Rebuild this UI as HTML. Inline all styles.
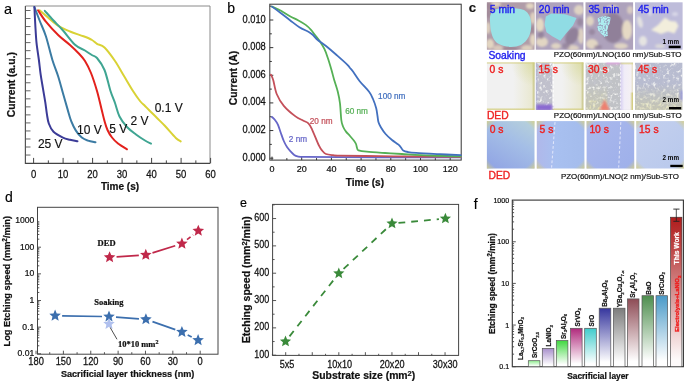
<!DOCTYPE html><html><head><meta charset="utf-8"><style>html,body{margin:0;padding:0;background:#fff;width:685px;height:383px;overflow:hidden}svg{display:block;will-change:transform}</style></head><body>
<svg width="685" height="383" viewBox="0 0 685 383">
<rect width="685" height="383" fill="#fff"/>
<text x="4" y="13.8" font-size="14.5" fill="#000" stroke="#000" stroke-width="0.15" text-anchor="start" font-weight="normal" font-family='"Liberation Sans", sans-serif' >a</text>
<line x1="25.4" y1="6" x2="210" y2="6" stroke="#8a8a8a" stroke-width="1" />
<line x1="210" y1="6" x2="210" y2="163.4" stroke="#8a8a8a" stroke-width="1" />
<line x1="25.4" y1="6" x2="25.4" y2="163.9" stroke="#555" stroke-width="1.2" />
<line x1="25.4" y1="163.4" x2="210" y2="163.4" stroke="#444" stroke-width="1.2" />
<line x1="25.4" y1="10.5" x2="30.5" y2="10.5" stroke="#555" stroke-width="0.9" />
<line x1="25.4" y1="18.53" x2="30.5" y2="18.53" stroke="#555" stroke-width="0.9" />
<line x1="25.4" y1="26.56" x2="30.5" y2="26.56" stroke="#555" stroke-width="0.9" />
<line x1="25.4" y1="34.589999999999996" x2="30.5" y2="34.589999999999996" stroke="#555" stroke-width="0.9" />
<line x1="25.4" y1="42.62" x2="30.5" y2="42.62" stroke="#555" stroke-width="0.9" />
<line x1="25.4" y1="50.65" x2="30.5" y2="50.65" stroke="#555" stroke-width="0.9" />
<line x1="25.4" y1="58.67999999999999" x2="30.5" y2="58.67999999999999" stroke="#555" stroke-width="0.9" />
<line x1="25.4" y1="66.71" x2="30.5" y2="66.71" stroke="#555" stroke-width="0.9" />
<line x1="25.4" y1="74.74" x2="30.5" y2="74.74" stroke="#555" stroke-width="0.9" />
<line x1="25.4" y1="82.77" x2="30.5" y2="82.77" stroke="#555" stroke-width="0.9" />
<line x1="25.4" y1="90.8" x2="30.5" y2="90.8" stroke="#555" stroke-width="0.9" />
<line x1="25.4" y1="98.83" x2="30.5" y2="98.83" stroke="#555" stroke-width="0.9" />
<line x1="25.4" y1="106.85999999999999" x2="30.5" y2="106.85999999999999" stroke="#555" stroke-width="0.9" />
<line x1="25.4" y1="114.88999999999999" x2="30.5" y2="114.88999999999999" stroke="#555" stroke-width="0.9" />
<line x1="25.4" y1="122.91999999999999" x2="30.5" y2="122.91999999999999" stroke="#555" stroke-width="0.9" />
<line x1="25.4" y1="130.95" x2="30.5" y2="130.95" stroke="#555" stroke-width="0.9" />
<line x1="25.4" y1="138.98" x2="30.5" y2="138.98" stroke="#555" stroke-width="0.9" />
<line x1="25.4" y1="147.01" x2="30.5" y2="147.01" stroke="#555" stroke-width="0.9" />
<line x1="25.4" y1="155.04" x2="30.5" y2="155.04" stroke="#555" stroke-width="0.9" />
<line x1="33.6" y1="163.4" x2="33.6" y2="157.9" stroke="#444" stroke-width="1" />
<line x1="48.35" y1="163.4" x2="48.35" y2="160.4" stroke="#444" stroke-width="1" />
<line x1="63.1" y1="163.4" x2="63.1" y2="157.9" stroke="#444" stroke-width="1" />
<line x1="77.85" y1="163.4" x2="77.85" y2="160.4" stroke="#444" stroke-width="1" />
<line x1="92.6" y1="163.4" x2="92.6" y2="157.9" stroke="#444" stroke-width="1" />
<line x1="107.35" y1="163.4" x2="107.35" y2="160.4" stroke="#444" stroke-width="1" />
<line x1="122.1" y1="163.4" x2="122.1" y2="157.9" stroke="#444" stroke-width="1" />
<line x1="136.85" y1="163.4" x2="136.85" y2="160.4" stroke="#444" stroke-width="1" />
<line x1="151.6" y1="163.4" x2="151.6" y2="157.9" stroke="#444" stroke-width="1" />
<line x1="166.35" y1="163.4" x2="166.35" y2="160.4" stroke="#444" stroke-width="1" />
<line x1="181.1" y1="163.4" x2="181.1" y2="157.9" stroke="#444" stroke-width="1" />
<line x1="195.85" y1="163.4" x2="195.85" y2="160.4" stroke="#444" stroke-width="1" />
<line x1="210.6" y1="163.4" x2="210.6" y2="157.9" stroke="#444" stroke-width="1" />
<text x="0" y="0" transform="translate(33.60,177.80) scale(1,1.18)" font-size="9.5" fill="#111" stroke="#111" stroke-width="0.22" text-anchor="middle" font-weight="normal" font-family='"Liberation Sans", sans-serif' >0</text>
<text x="0" y="0" transform="translate(63.10,177.80) scale(1,1.18)" font-size="9.5" fill="#111" stroke="#111" stroke-width="0.22" text-anchor="middle" font-weight="normal" font-family='"Liberation Sans", sans-serif' >10</text>
<text x="0" y="0" transform="translate(92.60,177.80) scale(1,1.18)" font-size="9.5" fill="#111" stroke="#111" stroke-width="0.22" text-anchor="middle" font-weight="normal" font-family='"Liberation Sans", sans-serif' >20</text>
<text x="0" y="0" transform="translate(122.10,177.80) scale(1,1.18)" font-size="9.5" fill="#111" stroke="#111" stroke-width="0.22" text-anchor="middle" font-weight="normal" font-family='"Liberation Sans", sans-serif' >30</text>
<text x="0" y="0" transform="translate(151.60,177.80) scale(1,1.18)" font-size="9.5" fill="#111" stroke="#111" stroke-width="0.22" text-anchor="middle" font-weight="normal" font-family='"Liberation Sans", sans-serif' >40</text>
<text x="0" y="0" transform="translate(181.10,177.80) scale(1,1.18)" font-size="9.5" fill="#111" stroke="#111" stroke-width="0.22" text-anchor="middle" font-weight="normal" font-family='"Liberation Sans", sans-serif' >50</text>
<text x="0" y="0" transform="translate(210.60,177.80) scale(1,1.18)" font-size="9.5" fill="#111" stroke="#111" stroke-width="0.22" text-anchor="middle" font-weight="normal" font-family='"Liberation Sans", sans-serif' >60</text>
<text x="120" y="190" font-size="10" fill="#111" stroke="#111" stroke-width="0.22" text-anchor="middle" font-weight="bold" font-family='"Liberation Sans", sans-serif' >Time (s)</text>
<text x="0" y="0" font-size="10.4" fill="#111" stroke="#111" stroke-width="0.22" text-anchor="middle" font-weight="bold" font-family='"Liberation Sans", sans-serif' transform="translate(14.9,84.7) rotate(-90)">Current (a.u.)</text>
<path d="M39.60,10.20 C41.00,11.42 44.87,14.88 48.00,17.50 C51.13,20.12 54.73,23.57 58.40,25.90 C62.07,28.23 65.82,29.77 70.00,31.50 C74.18,33.23 79.83,34.88 83.50,36.30 C87.17,37.72 89.75,38.75 92.00,40.00 C94.25,41.25 94.92,42.55 97.00,43.80 C99.08,45.05 101.50,44.63 104.50,47.50 C107.50,50.37 111.75,56.25 115.00,61.00 C118.25,65.75 121.00,71.00 124.00,76.00 C127.00,81.00 130.33,86.83 133.00,91.00 C135.67,95.17 138.00,98.50 140.00,101.00 C142.00,103.50 143.38,104.38 145.00,106.00 C146.62,107.62 147.70,108.70 149.70,110.70 C151.70,112.70 154.48,115.48 157.00,118.00 C159.52,120.52 161.67,122.47 164.80,125.80 C167.93,129.13 173.15,135.40 175.80,138.00 C178.45,140.60 179.88,140.83 180.70,141.40" fill="none" stroke="#d9d235" stroke-width="2" stroke-linejoin="round" stroke-linecap="round" />
<path d="M44.80,10.80 C46.17,12.33 50.03,16.80 53.00,20.00 C55.97,23.20 58.93,25.88 62.60,30.00 C66.27,34.12 71.27,41.28 75.00,44.70 C78.73,48.12 82.20,48.78 85.00,50.50 C87.80,52.22 89.80,53.75 91.80,55.00 C93.80,56.25 94.88,55.50 97.00,58.00 C99.12,60.50 102.25,64.50 104.50,70.00 C106.75,75.50 108.75,85.50 110.50,91.00 C112.25,96.50 113.50,98.75 115.00,103.00 C116.50,107.25 117.50,112.50 119.50,116.50 C121.50,120.50 124.25,124.00 127.00,127.00 C129.75,130.00 133.00,132.25 136.00,134.50 C139.00,136.75 142.50,138.98 145.00,140.50 C147.50,142.02 150.00,143.08 151.00,143.60" fill="none" stroke="#3fa592" stroke-width="2" stroke-linejoin="round" stroke-linecap="round" />
<path d="M38.00,10.20 C39.32,12.12 42.50,17.52 45.90,21.70 C49.30,25.88 54.38,31.42 58.40,35.30 C62.42,39.18 66.52,41.88 70.00,45.00 C73.48,48.12 76.80,51.33 79.30,54.00 C81.80,56.67 83.05,57.83 85.00,61.00 C86.95,64.17 89.00,68.00 91.00,73.00 C93.00,78.00 95.25,85.00 97.00,91.00 C98.75,97.00 100.25,104.00 101.50,109.00 C102.75,114.00 103.50,117.50 104.50,121.00 C105.50,124.50 106.25,127.25 107.50,130.00 C108.75,132.75 110.25,135.25 112.00,137.50 C113.75,139.75 115.50,141.53 118.00,143.50 C120.50,145.47 125.50,148.33 127.00,149.30" fill="none" stroke="#e3211c" stroke-width="2" stroke-linejoin="round" stroke-linecap="round" />
<path d="M34.40,7.00 C35.33,9.42 38.08,16.62 40.00,21.50 C41.92,26.38 43.83,29.88 45.90,36.30 C47.97,42.72 50.35,53.30 52.40,60.00 C54.45,66.70 56.45,71.00 58.20,76.50 C59.95,82.00 61.33,87.52 62.90,93.00 C64.47,98.48 66.22,104.70 67.60,109.40 C68.98,114.10 69.82,117.67 71.20,121.20 C72.58,124.73 74.13,127.87 75.90,130.60 C77.67,133.33 79.78,135.93 81.80,137.60 C83.82,139.27 85.72,139.83 88.00,140.60 C90.28,141.37 94.25,141.93 95.50,142.20" fill="none" stroke="#3b7ba3" stroke-width="2" stroke-linejoin="round" stroke-linecap="round" />
<path d="M34.40,7.00 C34.55,10.00 34.95,19.07 35.30,25.00 C35.65,30.93 35.90,36.77 36.50,42.60 C37.10,48.43 38.22,54.75 38.90,60.00 C39.58,65.25 39.93,69.40 40.60,74.10 C41.27,78.80 42.12,83.48 42.90,88.20 C43.68,92.92 44.63,98.08 45.30,102.40 C45.97,106.72 46.32,110.58 46.90,114.10 C47.48,117.62 47.70,120.55 48.80,123.50 C49.90,126.45 51.15,129.45 53.50,131.80 C55.85,134.15 60.15,136.27 62.90,137.60 C65.65,138.93 67.57,139.18 70.00,139.80 C72.43,140.42 76.25,141.05 77.50,141.30" fill="none" stroke="#3b3b97" stroke-width="2" stroke-linejoin="round" stroke-linecap="round" />
<text x="37.9" y="147.6" font-size="12" fill="#111" stroke="#111" stroke-width="0.15" text-anchor="start" font-weight="normal" font-family='"Liberation Sans", sans-serif' >25 V</text>
<text x="77" y="134.3" font-size="12" fill="#111" stroke="#111" stroke-width="0.15" text-anchor="start" font-weight="normal" font-family='"Liberation Sans", sans-serif' >10 V</text>
<text x="109.3" y="133" font-size="12" fill="#111" stroke="#111" stroke-width="0.15" text-anchor="start" font-weight="normal" font-family='"Liberation Sans", sans-serif' >5 V</text>
<text x="130.6" y="125" font-size="12" fill="#111" stroke="#111" stroke-width="0.15" text-anchor="start" font-weight="normal" font-family='"Liberation Sans", sans-serif' >2 V</text>
<text x="154.7" y="112" font-size="12" fill="#111" stroke="#111" stroke-width="0.15" text-anchor="start" font-weight="normal" font-family='"Liberation Sans", sans-serif' >0.1 V</text>
<text x="227.3" y="12.9" font-size="14" fill="#000" stroke="#000" stroke-width="0.15" text-anchor="start" font-weight="normal" font-family='"Liberation Sans", sans-serif' >b</text>
<rect x="269.8" y="4.2" width="191.4" height="155.9" fill="none" stroke="#333" stroke-width="1"/>
<line x1="269.8" y1="158.2" x2="273.3" y2="158.2" stroke="#333" stroke-width="1" />
<line x1="269.8" y1="144.38" x2="271.8" y2="144.38" stroke="#333" stroke-width="1" />
<line x1="269.8" y1="130.56" x2="273.3" y2="130.56" stroke="#333" stroke-width="1" />
<line x1="269.8" y1="116.73999999999998" x2="271.8" y2="116.73999999999998" stroke="#333" stroke-width="1" />
<line x1="269.8" y1="102.91999999999999" x2="273.3" y2="102.91999999999999" stroke="#333" stroke-width="1" />
<line x1="269.8" y1="89.1" x2="271.8" y2="89.1" stroke="#333" stroke-width="1" />
<line x1="269.8" y1="75.27999999999999" x2="273.3" y2="75.27999999999999" stroke="#333" stroke-width="1" />
<line x1="269.8" y1="61.45999999999998" x2="271.8" y2="61.45999999999998" stroke="#333" stroke-width="1" />
<line x1="269.8" y1="47.639999999999986" x2="273.3" y2="47.639999999999986" stroke="#333" stroke-width="1" />
<line x1="269.8" y1="33.81999999999999" x2="271.8" y2="33.81999999999999" stroke="#333" stroke-width="1" />
<line x1="269.8" y1="20.0" x2="273.3" y2="20.0" stroke="#333" stroke-width="1" />
<line x1="269.8" y1="6.179999999999978" x2="271.8" y2="6.179999999999978" stroke="#333" stroke-width="1" />
<text x="0" y="0" transform="translate(265.80,160.70) scale(1,1.2)" font-size="9.3" fill="#111" stroke="#111" stroke-width="0.22" text-anchor="end" font-weight="normal" font-family='"Liberation Sans", sans-serif' >0.000</text>
<text x="0" y="0" transform="translate(265.80,133.06) scale(1,1.2)" font-size="9.3" fill="#111" stroke="#111" stroke-width="0.22" text-anchor="end" font-weight="normal" font-family='"Liberation Sans", sans-serif' >0.002</text>
<text x="0" y="0" transform="translate(265.80,105.42) scale(1,1.2)" font-size="9.3" fill="#111" stroke="#111" stroke-width="0.22" text-anchor="end" font-weight="normal" font-family='"Liberation Sans", sans-serif' >0.004</text>
<text x="0" y="0" transform="translate(265.80,77.78) scale(1,1.2)" font-size="9.3" fill="#111" stroke="#111" stroke-width="0.22" text-anchor="end" font-weight="normal" font-family='"Liberation Sans", sans-serif' >0.006</text>
<text x="0" y="0" transform="translate(265.80,50.14) scale(1,1.2)" font-size="9.3" fill="#111" stroke="#111" stroke-width="0.22" text-anchor="end" font-weight="normal" font-family='"Liberation Sans", sans-serif' >0.008</text>
<text x="0" y="0" transform="translate(265.80,22.50) scale(1,1.2)" font-size="9.3" fill="#111" stroke="#111" stroke-width="0.22" text-anchor="end" font-weight="normal" font-family='"Liberation Sans", sans-serif' >0.010</text>
<line x1="272.0" y1="160.1" x2="272.0" y2="156.6" stroke="#333" stroke-width="1" />
<line x1="286.85" y1="160.1" x2="286.85" y2="158.1" stroke="#333" stroke-width="1" />
<line x1="301.7" y1="160.1" x2="301.7" y2="156.6" stroke="#333" stroke-width="1" />
<line x1="316.55" y1="160.1" x2="316.55" y2="158.1" stroke="#333" stroke-width="1" />
<line x1="331.4" y1="160.1" x2="331.4" y2="156.6" stroke="#333" stroke-width="1" />
<line x1="346.25" y1="160.1" x2="346.25" y2="158.1" stroke="#333" stroke-width="1" />
<line x1="361.1" y1="160.1" x2="361.1" y2="156.6" stroke="#333" stroke-width="1" />
<line x1="375.95" y1="160.1" x2="375.95" y2="158.1" stroke="#333" stroke-width="1" />
<line x1="390.8" y1="160.1" x2="390.8" y2="156.6" stroke="#333" stroke-width="1" />
<line x1="405.65" y1="160.1" x2="405.65" y2="158.1" stroke="#333" stroke-width="1" />
<line x1="420.5" y1="160.1" x2="420.5" y2="156.6" stroke="#333" stroke-width="1" />
<line x1="435.35" y1="160.1" x2="435.35" y2="158.1" stroke="#333" stroke-width="1" />
<line x1="450.20000000000005" y1="160.1" x2="450.20000000000005" y2="156.6" stroke="#333" stroke-width="1" />
<text x="0" y="0" transform="translate(272.00,171.80) scale(1,1.06)" font-size="9" fill="#111" stroke="#111" stroke-width="0.22" text-anchor="middle" font-weight="normal" font-family='"Liberation Sans", sans-serif' >0</text>
<text x="0" y="0" transform="translate(301.70,171.80) scale(1,1.06)" font-size="9" fill="#111" stroke="#111" stroke-width="0.22" text-anchor="middle" font-weight="normal" font-family='"Liberation Sans", sans-serif' >20</text>
<text x="0" y="0" transform="translate(331.40,171.80) scale(1,1.06)" font-size="9" fill="#111" stroke="#111" stroke-width="0.22" text-anchor="middle" font-weight="normal" font-family='"Liberation Sans", sans-serif' >40</text>
<text x="0" y="0" transform="translate(361.10,171.80) scale(1,1.06)" font-size="9" fill="#111" stroke="#111" stroke-width="0.22" text-anchor="middle" font-weight="normal" font-family='"Liberation Sans", sans-serif' >60</text>
<text x="0" y="0" transform="translate(390.80,171.80) scale(1,1.06)" font-size="9" fill="#111" stroke="#111" stroke-width="0.22" text-anchor="middle" font-weight="normal" font-family='"Liberation Sans", sans-serif' >80</text>
<text x="0" y="0" transform="translate(420.50,171.80) scale(1,1.06)" font-size="9" fill="#111" stroke="#111" stroke-width="0.22" text-anchor="middle" font-weight="normal" font-family='"Liberation Sans", sans-serif' >100</text>
<text x="0" y="0" transform="translate(450.20,171.80) scale(1,1.06)" font-size="9" fill="#111" stroke="#111" stroke-width="0.22" text-anchor="middle" font-weight="normal" font-family='"Liberation Sans", sans-serif' >120</text>
<text x="364.9" y="186.3" font-size="10" fill="#111" stroke="#111" stroke-width="0.22" text-anchor="middle" font-weight="bold" font-family='"Liberation Sans", sans-serif' >Time (s)</text>
<text x="0" y="0" font-size="10.3" fill="#111" stroke="#111" stroke-width="0.22" text-anchor="middle" font-weight="bold" font-family='"Liberation Sans", sans-serif' transform="translate(237.3,78) rotate(-90)">Current (A)</text>
<path d="M272.00,117.00 C272.50,117.50 274.02,118.73 275.00,120.00 C275.98,121.27 276.98,122.60 277.90,124.60 C278.82,126.60 279.52,129.27 280.50,132.00 C281.48,134.73 282.72,138.50 283.80,141.00 C284.88,143.50 285.83,145.23 287.00,147.00 C288.17,148.77 289.63,150.30 290.80,151.60 C291.97,152.90 292.88,154.00 294.00,154.80 C295.12,155.60 295.67,156.05 297.50,156.40 C299.33,156.75 297.92,156.78 305.00,156.90 C312.08,157.02 324.17,157.03 340.00,157.10 C355.83,157.17 379.87,157.25 400.00,157.30 C420.13,157.35 450.67,157.38 460.80,157.40" fill="none" stroke="#6666c8" stroke-width="1.8" stroke-linejoin="round" stroke-linecap="round" />
<path d="M270.90,74.60 C271.28,75.50 272.23,76.77 273.20,80.00 C274.17,83.23 274.93,89.70 276.70,94.00 C278.47,98.30 280.67,102.07 283.80,105.80 C286.93,109.53 292.30,113.95 295.50,116.40 C298.70,118.85 300.85,119.33 303.00,120.50 C305.15,121.67 306.90,121.93 308.40,123.40 C309.90,124.87 310.23,125.58 312.00,129.30 C313.77,133.02 317.25,142.08 319.00,145.70 C320.75,149.32 321.33,149.62 322.50,151.00 C323.67,152.38 324.25,153.30 326.00,154.00 C327.75,154.70 330.67,154.93 333.00,155.20 C335.33,155.47 332.17,155.43 340.00,155.60 C347.83,155.77 366.67,156.05 380.00,156.20 C393.33,156.35 406.53,156.40 420.00,156.50 C433.47,156.60 454.00,156.75 460.80,156.80" fill="none" stroke="#c4505a" stroke-width="1.8" stroke-linejoin="round" stroke-linecap="round" />
<path d="M272.00,6.60 C273.50,7.30 278.00,9.18 281.00,10.80 C284.00,12.42 287.17,14.73 290.00,16.30 C292.83,17.87 295.38,18.77 298.00,20.20 C300.62,21.63 303.53,23.30 305.70,24.90 C307.87,26.50 309.45,28.12 311.00,29.80 C312.55,31.48 313.53,33.08 315.00,35.00 C316.47,36.92 318.22,38.93 319.80,41.30 C321.38,43.67 323.13,46.33 324.50,49.20 C325.87,52.07 326.83,55.03 328.00,58.50 C329.17,61.97 330.47,66.42 331.50,70.00 C332.53,73.58 333.15,76.38 334.20,80.00 C335.25,83.62 336.83,87.78 337.80,91.70 C338.77,95.62 339.42,98.78 340.00,103.50 C340.58,108.22 340.80,116.17 341.30,120.00 C341.80,123.83 342.22,124.57 343.00,126.50 C343.78,128.43 344.83,130.02 346.00,131.60 C347.17,133.18 348.63,134.43 350.00,136.00 C351.37,137.57 353.20,139.67 354.20,141.00 C355.20,142.33 355.50,142.75 356.00,144.00 C356.50,145.25 356.78,147.45 357.20,148.50 C357.62,149.55 356.90,149.77 358.50,150.30 C360.10,150.83 362.38,151.25 366.80,151.70 C371.22,152.15 379.13,152.62 385.00,153.00 C390.87,153.38 394.50,153.58 402.00,154.00 C409.50,154.42 420.20,155.10 430.00,155.50 C439.80,155.90 455.67,156.25 460.80,156.40" fill="none" stroke="#55b055" stroke-width="1.8" stroke-linejoin="round" stroke-linecap="round" />
<path d="M272.00,6.60 C273.33,7.58 277.00,10.23 280.00,12.50 C283.00,14.77 286.77,17.75 290.00,20.20 C293.23,22.65 296.27,25.23 299.40,27.20 C302.53,29.17 306.53,30.70 308.80,32.00 C311.07,33.30 311.57,33.70 313.00,35.00 C314.43,36.30 315.23,37.97 317.40,39.80 C319.57,41.63 322.73,43.40 326.00,46.00 C329.27,48.60 333.47,52.30 337.00,55.40 C340.53,58.50 345.03,62.50 347.20,64.60 C349.37,66.70 349.03,66.85 350.00,68.00 C350.97,69.15 351.38,69.30 353.00,71.50 C354.62,73.70 357.02,77.82 359.70,81.20 C362.38,84.58 366.88,88.83 369.10,91.80 C371.32,94.77 371.82,96.27 373.00,99.00 C374.18,101.73 375.45,105.37 376.20,108.20 C376.95,111.03 377.12,113.65 377.50,116.00 C377.88,118.35 377.92,120.38 378.50,122.30 C379.08,124.22 379.82,125.55 381.00,127.50 C382.18,129.45 383.77,131.92 385.60,134.00 C387.43,136.08 389.85,138.23 392.00,140.00 C394.15,141.77 397.00,143.35 398.50,144.60 C400.00,145.85 400.22,146.52 401.00,147.50 C401.78,148.48 402.03,149.75 403.20,150.50 C404.37,151.25 405.85,151.60 408.00,152.00 C410.15,152.40 410.77,152.53 416.10,152.90 C421.43,153.27 432.55,153.82 440.00,154.20 C447.45,154.58 457.33,155.03 460.80,155.20" fill="none" stroke="#4270bf" stroke-width="1.8" stroke-linejoin="round" stroke-linecap="round" />
<text x="378.1" y="99" font-size="8.2" fill="#4270bf" stroke="#4270bf" stroke-width="0.22" text-anchor="start" font-weight="normal" font-family='"Liberation Sans", sans-serif' >100 nm</text>
<text x="345.2" y="113.9" font-size="8.2" fill="#55b055" stroke="#55b055" stroke-width="0.22" text-anchor="start" font-weight="normal" font-family='"Liberation Sans", sans-serif' >60 nm</text>
<text x="309.8" y="123.9" font-size="8.2" fill="#c4505a" stroke="#c4505a" stroke-width="0.22" text-anchor="start" font-weight="normal" font-family='"Liberation Sans", sans-serif' >20 nm</text>
<text x="288.8" y="141.9" font-size="8.2" fill="#6666c8" stroke="#6666c8" stroke-width="0.22" text-anchor="start" font-weight="normal" font-family='"Liberation Sans", sans-serif' >2 nm</text>
<text x="5" y="201.5" font-size="14" fill="#000" stroke="#000" stroke-width="0.15" text-anchor="start" font-weight="normal" font-family='"Liberation Sans", sans-serif' >d</text>
<rect x="37.5" y="207.3" width="180.5" height="146.9" fill="none" stroke="#444" stroke-width="1"/>
<line x1="37.5" y1="353.8" x2="41.0" y2="353.8" stroke="#444" stroke-width="0.9" />
<line x1="37.5" y1="345.7775506155549" x2="39.3" y2="345.7775506155549" stroke="#444" stroke-width="0.9" />
<line x1="37.5" y1="341.084718561721" x2="39.3" y2="341.084718561721" stroke="#444" stroke-width="0.9" />
<line x1="37.5" y1="337.7551012311098" x2="39.3" y2="337.7551012311098" stroke="#444" stroke-width="0.9" />
<line x1="37.5" y1="335.1724493844451" x2="39.3" y2="335.1724493844451" stroke="#444" stroke-width="0.9" />
<line x1="37.5" y1="333.0622691772759" x2="39.3" y2="333.0622691772759" stroke="#444" stroke-width="0.9" />
<line x1="37.5" y1="331.27813723362004" x2="39.3" y2="331.27813723362004" stroke="#444" stroke-width="0.9" />
<line x1="37.5" y1="329.73265184666474" x2="39.3" y2="329.73265184666474" stroke="#444" stroke-width="0.9" />
<line x1="37.5" y1="328.369437123442" x2="39.3" y2="328.369437123442" stroke="#444" stroke-width="0.9" />
<line x1="37.5" y1="327.15000000000003" x2="41.0" y2="327.15000000000003" stroke="#444" stroke-width="0.9" />
<line x1="37.5" y1="319.1275506155549" x2="39.3" y2="319.1275506155549" stroke="#444" stroke-width="0.9" />
<line x1="37.5" y1="314.434718561721" x2="39.3" y2="314.434718561721" stroke="#444" stroke-width="0.9" />
<line x1="37.5" y1="311.1051012311098" x2="39.3" y2="311.1051012311098" stroke="#444" stroke-width="0.9" />
<line x1="37.5" y1="308.5224493844451" x2="39.3" y2="308.5224493844451" stroke="#444" stroke-width="0.9" />
<line x1="37.5" y1="306.4122691772759" x2="39.3" y2="306.4122691772759" stroke="#444" stroke-width="0.9" />
<line x1="37.5" y1="304.62813723362007" x2="39.3" y2="304.62813723362007" stroke="#444" stroke-width="0.9" />
<line x1="37.5" y1="303.0826518466647" x2="39.3" y2="303.0826518466647" stroke="#444" stroke-width="0.9" />
<line x1="37.5" y1="301.719437123442" x2="39.3" y2="301.719437123442" stroke="#444" stroke-width="0.9" />
<line x1="37.5" y1="300.5" x2="41.0" y2="300.5" stroke="#444" stroke-width="0.9" />
<line x1="37.5" y1="292.4775506155549" x2="39.3" y2="292.4775506155549" stroke="#444" stroke-width="0.9" />
<line x1="37.5" y1="287.784718561721" x2="39.3" y2="287.784718561721" stroke="#444" stroke-width="0.9" />
<line x1="37.5" y1="284.4551012311098" x2="39.3" y2="284.4551012311098" stroke="#444" stroke-width="0.9" />
<line x1="37.5" y1="281.87244938444513" x2="39.3" y2="281.87244938444513" stroke="#444" stroke-width="0.9" />
<line x1="37.5" y1="279.7622691772759" x2="39.3" y2="279.7622691772759" stroke="#444" stroke-width="0.9" />
<line x1="37.5" y1="277.9781372336201" x2="39.3" y2="277.9781372336201" stroke="#444" stroke-width="0.9" />
<line x1="37.5" y1="276.4326518466647" x2="39.3" y2="276.4326518466647" stroke="#444" stroke-width="0.9" />
<line x1="37.5" y1="275.069437123442" x2="39.3" y2="275.069437123442" stroke="#444" stroke-width="0.9" />
<line x1="37.5" y1="273.85" x2="41.0" y2="273.85" stroke="#444" stroke-width="0.9" />
<line x1="37.5" y1="265.8275506155549" x2="39.3" y2="265.8275506155549" stroke="#444" stroke-width="0.9" />
<line x1="37.5" y1="261.134718561721" x2="39.3" y2="261.134718561721" stroke="#444" stroke-width="0.9" />
<line x1="37.5" y1="257.8051012311098" x2="39.3" y2="257.8051012311098" stroke="#444" stroke-width="0.9" />
<line x1="37.5" y1="255.2224493844451" x2="39.3" y2="255.2224493844451" stroke="#444" stroke-width="0.9" />
<line x1="37.5" y1="253.1122691772759" x2="39.3" y2="253.1122691772759" stroke="#444" stroke-width="0.9" />
<line x1="37.5" y1="251.32813723362005" x2="39.3" y2="251.32813723362005" stroke="#444" stroke-width="0.9" />
<line x1="37.5" y1="249.78265184666472" x2="39.3" y2="249.78265184666472" stroke="#444" stroke-width="0.9" />
<line x1="37.5" y1="248.419437123442" x2="39.3" y2="248.419437123442" stroke="#444" stroke-width="0.9" />
<line x1="37.5" y1="247.20000000000002" x2="41.0" y2="247.20000000000002" stroke="#444" stroke-width="0.9" />
<line x1="37.5" y1="239.17755061555494" x2="39.3" y2="239.17755061555494" stroke="#444" stroke-width="0.9" />
<line x1="37.5" y1="234.48471856172102" x2="39.3" y2="234.48471856172102" stroke="#444" stroke-width="0.9" />
<line x1="37.5" y1="231.15510123110982" x2="39.3" y2="231.15510123110982" stroke="#444" stroke-width="0.9" />
<line x1="37.5" y1="228.57244938444512" x2="39.3" y2="228.57244938444512" stroke="#444" stroke-width="0.9" />
<line x1="37.5" y1="226.4622691772759" x2="39.3" y2="226.4622691772759" stroke="#444" stroke-width="0.9" />
<line x1="37.5" y1="224.67813723362008" x2="39.3" y2="224.67813723362008" stroke="#444" stroke-width="0.9" />
<line x1="37.5" y1="223.13265184666471" x2="39.3" y2="223.13265184666471" stroke="#444" stroke-width="0.9" />
<line x1="37.5" y1="221.769437123442" x2="39.3" y2="221.769437123442" stroke="#444" stroke-width="0.9" />
<text x="0" y="0" transform="translate(34.30,356.30) scale(1,1.1)" font-size="8.6" fill="#111" stroke="#111" stroke-width="0.22" text-anchor="end" font-weight="normal" font-family='"Liberation Sans", sans-serif' >0.01</text>
<text x="0" y="0" transform="translate(34.30,329.65) scale(1,1.1)" font-size="8.6" fill="#111" stroke="#111" stroke-width="0.22" text-anchor="end" font-weight="normal" font-family='"Liberation Sans", sans-serif' >0.1</text>
<text x="0" y="0" transform="translate(34.30,303.00) scale(1,1.1)" font-size="8.6" fill="#111" stroke="#111" stroke-width="0.22" text-anchor="end" font-weight="normal" font-family='"Liberation Sans", sans-serif' >1</text>
<text x="0" y="0" transform="translate(34.30,276.35) scale(1,1.1)" font-size="8.6" fill="#111" stroke="#111" stroke-width="0.22" text-anchor="end" font-weight="normal" font-family='"Liberation Sans", sans-serif' >10</text>
<text x="0" y="0" transform="translate(34.30,249.70) scale(1,1.1)" font-size="8.6" fill="#111" stroke="#111" stroke-width="0.22" text-anchor="end" font-weight="normal" font-family='"Liberation Sans", sans-serif' >100</text>
<text x="0" y="0" transform="translate(34.30,223.05) scale(1,1.1)" font-size="8.6" fill="#111" stroke="#111" stroke-width="0.22" text-anchor="end" font-weight="normal" font-family='"Liberation Sans", sans-serif' >1000</text>
<line x1="200.2" y1="354.2" x2="200.2" y2="350.7" stroke="#444" stroke-width="0.9" />
<line x1="186.51999999999998" y1="354.2" x2="186.51999999999998" y2="352.2" stroke="#444" stroke-width="0.9" />
<line x1="172.83999999999997" y1="354.2" x2="172.83999999999997" y2="350.7" stroke="#444" stroke-width="0.9" />
<line x1="159.16" y1="354.2" x2="159.16" y2="352.2" stroke="#444" stroke-width="0.9" />
<line x1="145.48" y1="354.2" x2="145.48" y2="350.7" stroke="#444" stroke-width="0.9" />
<line x1="131.79999999999998" y1="354.2" x2="131.79999999999998" y2="352.2" stroke="#444" stroke-width="0.9" />
<line x1="118.11999999999999" y1="354.2" x2="118.11999999999999" y2="350.7" stroke="#444" stroke-width="0.9" />
<line x1="104.43999999999998" y1="354.2" x2="104.43999999999998" y2="352.2" stroke="#444" stroke-width="0.9" />
<line x1="90.75999999999999" y1="354.2" x2="90.75999999999999" y2="350.7" stroke="#444" stroke-width="0.9" />
<line x1="77.07999999999998" y1="354.2" x2="77.07999999999998" y2="352.2" stroke="#444" stroke-width="0.9" />
<line x1="63.39999999999998" y1="354.2" x2="63.39999999999998" y2="350.7" stroke="#444" stroke-width="0.9" />
<line x1="49.71999999999997" y1="354.2" x2="49.71999999999997" y2="352.2" stroke="#444" stroke-width="0.9" />
<line x1="36.03999999999999" y1="354.2" x2="36.03999999999999" y2="350.7" stroke="#444" stroke-width="0.9" />
<text x="0" y="0" transform="translate(200.20,365.10) scale(1,1.14)" font-size="9.3" fill="#111" stroke="#111" stroke-width="0.22" text-anchor="middle" font-weight="normal" font-family='"Liberation Sans", sans-serif' >0</text>
<text x="0" y="0" transform="translate(172.84,365.10) scale(1,1.14)" font-size="9.3" fill="#111" stroke="#111" stroke-width="0.22" text-anchor="middle" font-weight="normal" font-family='"Liberation Sans", sans-serif' >30</text>
<text x="0" y="0" transform="translate(145.48,365.10) scale(1,1.14)" font-size="9.3" fill="#111" stroke="#111" stroke-width="0.22" text-anchor="middle" font-weight="normal" font-family='"Liberation Sans", sans-serif' >60</text>
<text x="0" y="0" transform="translate(118.12,365.10) scale(1,1.14)" font-size="9.3" fill="#111" stroke="#111" stroke-width="0.22" text-anchor="middle" font-weight="normal" font-family='"Liberation Sans", sans-serif' >90</text>
<text x="0" y="0" transform="translate(90.76,365.10) scale(1,1.14)" font-size="9.3" fill="#111" stroke="#111" stroke-width="0.22" text-anchor="middle" font-weight="normal" font-family='"Liberation Sans", sans-serif' >120</text>
<text x="0" y="0" transform="translate(63.40,365.10) scale(1,1.14)" font-size="9.3" fill="#111" stroke="#111" stroke-width="0.22" text-anchor="middle" font-weight="normal" font-family='"Liberation Sans", sans-serif' >150</text>
<text x="0" y="0" transform="translate(36.04,365.10) scale(1,1.14)" font-size="9.3" fill="#111" stroke="#111" stroke-width="0.22" text-anchor="middle" font-weight="normal" font-family='"Liberation Sans", sans-serif' >180</text>
<text x="127.6" y="376.9" font-size="9.1" fill="#111" stroke="#111" stroke-width="0.22" text-anchor="middle" font-weight="bold" font-family='"Liberation Sans", sans-serif' >Sacrificial layer thickness (nm)</text>
<text x="0" y="0" font-size="9.25" fill="#111" stroke="#111" stroke-width="0.22" text-anchor="middle" font-weight="bold" font-family='"Liberation Sans", sans-serif' transform="translate(9.6,281.2) rotate(-90)">Log Etching speed (mm<tspan baseline-shift="super" font-size="6.5">2</tspan>/min)</text>
<line x1="116.58" y1="256.84" x2="138.82" y2="255.36" stroke="#c0284a" stroke-width="1.7" />
<line x1="152.49" y1="252.83" x2="175.21" y2="245.77" stroke="#c0284a" stroke-width="1.7" />
<line x1="187.01" y1="239.68" x2="193.19" y2="234.82" stroke="#c0284a" stroke-width="1.7" stroke-dasharray="4.5,3"/>
<line x1="62.10" y1="315.82" x2="102.00" y2="316.48" stroke="#3c6fae" stroke-width="1.7" />
<line x1="115.98" y1="317.11" x2="138.92" y2="318.79" stroke="#3c6fae" stroke-width="1.7" />
<line x1="152.50" y1="321.63" x2="175.30" y2="329.67" stroke="#3c6fae" stroke-width="1.7" />
<line x1="187.70" y1="334.94" x2="192.30" y2="337.26" stroke="#3c6fae" stroke-width="1.7" stroke-dasharray="4.5,3"/>
<path d="M109.60,251.20 L111.21,255.08 L115.40,255.41 L112.21,258.15 L113.19,262.24 L109.60,260.05 L106.01,262.24 L106.99,258.15 L103.80,255.41 L107.99,255.08Z" fill="#c0284a"/>
<path d="M145.80,248.80 L147.41,252.68 L151.60,253.01 L148.41,255.75 L149.39,259.84 L145.80,257.64 L142.21,259.84 L143.19,255.75 L140.00,253.01 L144.19,252.68Z" fill="#c0284a"/>
<path d="M181.90,237.60 L183.51,241.48 L187.70,241.81 L184.51,244.55 L185.49,248.64 L181.90,246.44 L178.31,248.64 L179.29,244.55 L176.10,241.81 L180.29,241.48Z" fill="#c0284a"/>
<path d="M198.30,224.70 L199.91,228.58 L204.10,228.91 L200.91,231.65 L201.89,235.74 L198.30,233.55 L194.71,235.74 L195.69,231.65 L192.50,228.91 L196.69,228.58Z" fill="#c0284a"/>
<path d="M55.10,309.60 L56.71,313.48 L60.90,313.81 L57.71,316.55 L58.69,320.64 L55.10,318.44 L51.51,320.64 L52.49,316.55 L49.30,313.81 L53.49,313.48Z" fill="#3c6fae"/>
<path d="M109.00,310.50 L110.61,314.38 L114.80,314.71 L111.61,317.45 L112.59,321.54 L109.00,319.35 L105.41,321.54 L106.39,317.45 L103.20,314.71 L107.39,314.38Z" fill="#3c6fae"/>
<path d="M145.90,313.20 L147.51,317.08 L151.70,317.41 L148.51,320.15 L149.49,324.24 L145.90,322.05 L142.31,324.24 L143.29,320.15 L140.10,317.41 L144.29,317.08Z" fill="#3c6fae"/>
<path d="M181.90,325.90 L183.51,329.78 L187.70,330.11 L184.51,332.85 L185.49,336.94 L181.90,334.75 L178.31,336.94 L179.29,332.85 L176.10,330.11 L180.29,329.78Z" fill="#3c6fae"/>
<path d="M198.10,334.10 L199.71,337.98 L203.90,338.31 L200.71,341.05 L201.69,345.14 L198.10,342.94 L194.51,345.14 L195.49,341.05 L192.30,338.31 L196.49,337.98Z" fill="#3c6fae"/>
<path d="M109.00,317.90 L110.61,321.78 L114.80,322.11 L111.61,324.85 L112.59,328.94 L109.00,326.75 L105.41,328.94 L106.39,324.85 L103.20,322.11 L107.39,321.78Z" fill="#b0c0ee"/>
<line x1="110.2" y1="327.5" x2="117" y2="339.3" stroke="#222" stroke-width="0.8" />
<text x="94.3" y="305.4" font-size="8.5" fill="#111" stroke="#111" stroke-width="0.22" text-anchor="start" font-weight="bold" font-family='"Liberation Serif", serif' >Soaking</text>
<text x="97.6" y="245.9" font-size="8.5" fill="#111" stroke="#111" stroke-width="0.22" text-anchor="start" font-weight="bold" font-family='"Liberation Serif", serif' >DED</text>
<text x="117.9" y="346.7" font-size="8.5" fill="#111" stroke="#111" stroke-width="0.22" text-anchor="start" font-weight="bold" font-family='"Liberation Serif", serif' >10*10 mm<tspan baseline-shift="super" font-size="6">2</tspan></text>
<text x="240" y="207.4" font-size="12.5" fill="#000" stroke="#000" stroke-width="0.15" text-anchor="start" font-weight="normal" font-family='"Liberation Sans", sans-serif' >e</text>
<rect x="272.6" y="204.4" width="186" height="151" fill="none" stroke="#444" stroke-width="1"/>
<line x1="272.6" y1="355.2" x2="276.1" y2="355.2" stroke="#444" stroke-width="0.9" />
<line x1="272.6" y1="341.53499999999997" x2="274.6" y2="341.53499999999997" stroke="#444" stroke-width="0.9" />
<line x1="272.6" y1="327.87" x2="276.1" y2="327.87" stroke="#444" stroke-width="0.9" />
<line x1="272.6" y1="314.205" x2="274.6" y2="314.205" stroke="#444" stroke-width="0.9" />
<line x1="272.6" y1="300.53999999999996" x2="276.1" y2="300.53999999999996" stroke="#444" stroke-width="0.9" />
<line x1="272.6" y1="286.875" x2="274.6" y2="286.875" stroke="#444" stroke-width="0.9" />
<line x1="272.6" y1="273.21" x2="276.1" y2="273.21" stroke="#444" stroke-width="0.9" />
<line x1="272.6" y1="259.54499999999996" x2="274.6" y2="259.54499999999996" stroke="#444" stroke-width="0.9" />
<line x1="272.6" y1="245.88" x2="276.1" y2="245.88" stroke="#444" stroke-width="0.9" />
<line x1="272.6" y1="232.21499999999997" x2="274.6" y2="232.21499999999997" stroke="#444" stroke-width="0.9" />
<line x1="272.6" y1="218.54999999999998" x2="276.1" y2="218.54999999999998" stroke="#444" stroke-width="0.9" />
<line x1="272.6" y1="204.885" x2="274.6" y2="204.885" stroke="#444" stroke-width="0.9" />
<text x="0" y="0" transform="translate(269.30,357.80) scale(1,1.15)" font-size="9" fill="#111" stroke="#111" stroke-width="0.22" text-anchor="end" font-weight="normal" font-family='"Liberation Sans", sans-serif' >100</text>
<text x="0" y="0" transform="translate(269.30,330.47) scale(1,1.15)" font-size="9" fill="#111" stroke="#111" stroke-width="0.22" text-anchor="end" font-weight="normal" font-family='"Liberation Sans", sans-serif' >200</text>
<text x="0" y="0" transform="translate(269.30,303.14) scale(1,1.15)" font-size="9" fill="#111" stroke="#111" stroke-width="0.22" text-anchor="end" font-weight="normal" font-family='"Liberation Sans", sans-serif' >300</text>
<text x="0" y="0" transform="translate(269.30,275.81) scale(1,1.15)" font-size="9" fill="#111" stroke="#111" stroke-width="0.22" text-anchor="end" font-weight="normal" font-family='"Liberation Sans", sans-serif' >400</text>
<text x="0" y="0" transform="translate(269.30,248.48) scale(1,1.15)" font-size="9" fill="#111" stroke="#111" stroke-width="0.22" text-anchor="end" font-weight="normal" font-family='"Liberation Sans", sans-serif' >500</text>
<text x="0" y="0" transform="translate(269.30,221.15) scale(1,1.15)" font-size="9" fill="#111" stroke="#111" stroke-width="0.22" text-anchor="end" font-weight="normal" font-family='"Liberation Sans", sans-serif' >600</text>
<line x1="272.42" y1="355.4" x2="272.42" y2="353.79999999999995" stroke="#444" stroke-width="0.9" />
<line x1="285.7" y1="355.4" x2="285.7" y2="352.2" stroke="#444" stroke-width="0.9" />
<line x1="298.98" y1="355.4" x2="298.98" y2="353.79999999999995" stroke="#444" stroke-width="0.9" />
<line x1="312.26" y1="355.4" x2="312.26" y2="352.2" stroke="#444" stroke-width="0.9" />
<line x1="325.54" y1="355.4" x2="325.54" y2="353.79999999999995" stroke="#444" stroke-width="0.9" />
<line x1="338.82" y1="355.4" x2="338.82" y2="352.2" stroke="#444" stroke-width="0.9" />
<line x1="352.1" y1="355.4" x2="352.1" y2="353.79999999999995" stroke="#444" stroke-width="0.9" />
<line x1="365.38" y1="355.4" x2="365.38" y2="352.2" stroke="#444" stroke-width="0.9" />
<line x1="378.66" y1="355.4" x2="378.66" y2="353.79999999999995" stroke="#444" stroke-width="0.9" />
<line x1="391.94" y1="355.4" x2="391.94" y2="352.2" stroke="#444" stroke-width="0.9" />
<line x1="405.22" y1="355.4" x2="405.22" y2="353.79999999999995" stroke="#444" stroke-width="0.9" />
<line x1="418.5" y1="355.4" x2="418.5" y2="352.2" stroke="#444" stroke-width="0.9" />
<line x1="431.78" y1="355.4" x2="431.78" y2="353.79999999999995" stroke="#444" stroke-width="0.9" />
<line x1="445.06" y1="355.4" x2="445.06" y2="352.2" stroke="#444" stroke-width="0.9" />
<text x="0" y="0" transform="translate(287.00,368.30) scale(1,1.15)" font-size="9.1" fill="#111" stroke="#111" stroke-width="0.22" text-anchor="middle" font-weight="normal" font-family='"Liberation Sans", sans-serif' >5x5</text>
<text x="0" y="0" transform="translate(339.60,368.30) scale(1,1.15)" font-size="9.1" fill="#111" stroke="#111" stroke-width="0.22" text-anchor="middle" font-weight="normal" font-family='"Liberation Sans", sans-serif' >10x10</text>
<text x="0" y="0" transform="translate(392.10,368.30) scale(1,1.15)" font-size="9.1" fill="#111" stroke="#111" stroke-width="0.22" text-anchor="middle" font-weight="normal" font-family='"Liberation Sans", sans-serif' >20x20</text>
<text x="0" y="0" transform="translate(445.20,368.30) scale(1,1.15)" font-size="9.1" fill="#111" stroke="#111" stroke-width="0.22" text-anchor="middle" font-weight="normal" font-family='"Liberation Sans", sans-serif' >30x30</text>
<text x="363.8" y="379" font-size="10.4" fill="#111" stroke="#111" stroke-width="0.22" text-anchor="middle" font-weight="bold" font-family='"Liberation Sans", sans-serif' >Substrate size (mm<tspan dy="-3.2" font-size="7.5">2</tspan><tspan dy="3.2">)</tspan></text>
<text x="0" y="0" font-size="10.6" fill="#111" stroke="#111" stroke-width="0.22" text-anchor="middle" font-weight="bold" font-family='"Liberation Sans", sans-serif' transform="translate(249.8,279.7) rotate(-90)">Etching speed (mm<tspan dy="-3.2" font-size="7.5">2</tspan><tspan dy="3.2">/min)</tspan></text>
<line x1="289.51" y1="336.38" x2="334.79" y2="278.52" stroke="#3a8a3a" stroke-width="1.8" stroke-dasharray="6.8,6"/>
<line x1="343.54" y1="268.95" x2="387.26" y2="227.95" stroke="#3a8a3a" stroke-width="1.8" stroke-dasharray="6.8,6"/>
<line x1="398.47" y1="222.91" x2="438.93" y2="219.19" stroke="#3a8a3a" stroke-width="1.8" stroke-dasharray="6.8,6"/>
<path d="M285.50,335.60 L287.06,339.35 L291.11,339.68 L288.03,342.32 L288.97,346.27 L285.50,344.15 L282.03,346.27 L282.97,342.32 L279.89,339.68 L283.94,339.35Z" fill="#3a8a3a"/>
<path d="M338.80,267.50 L340.36,271.25 L344.41,271.58 L341.33,274.22 L342.27,278.17 L338.80,276.05 L335.33,278.17 L336.27,274.22 L333.19,271.58 L337.24,271.25Z" fill="#3a8a3a"/>
<path d="M392.00,217.60 L393.56,221.35 L397.61,221.68 L394.53,224.32 L395.47,228.27 L392.00,226.16 L388.53,228.27 L389.47,224.32 L386.39,221.68 L390.44,221.35Z" fill="#3a8a3a"/>
<path d="M445.40,212.70 L446.96,216.45 L451.01,216.78 L447.93,219.42 L448.87,223.37 L445.40,221.25 L441.93,223.37 L442.87,219.42 L439.79,216.78 L443.84,216.45Z" fill="#3a8a3a"/>
<text x="473.7" y="208.7" font-size="14" fill="#000" stroke="#000" stroke-width="0.15" text-anchor="start" font-weight="normal" font-family='"Liberation Sans", sans-serif' >f</text>
<rect x="512.3" y="200.1" width="171.1" height="166.6" fill="none" stroke="#333" stroke-width="1.1"/>
<line x1="512.3" y1="366.7" x2="515.8" y2="366.7" stroke="#444" stroke-width="0.9" />
<line x1="512.3" y1="354.1621006805952" x2="514.0999999999999" y2="354.1621006805952" stroke="#444" stroke-width="0.9" />
<line x1="512.3" y1="346.82789974092606" x2="514.0999999999999" y2="346.82789974092606" stroke="#444" stroke-width="0.9" />
<line x1="512.3" y1="341.62420136119033" x2="514.0999999999999" y2="341.62420136119033" stroke="#444" stroke-width="0.9" />
<line x1="512.3" y1="337.5878993194048" x2="514.0999999999999" y2="337.5878993194048" stroke="#444" stroke-width="0.9" />
<line x1="512.3" y1="334.2900004215212" x2="514.0999999999999" y2="334.2900004215212" stroke="#444" stroke-width="0.9" />
<line x1="512.3" y1="331.5016666334062" x2="514.0999999999999" y2="331.5016666334062" stroke="#444" stroke-width="0.9" />
<line x1="512.3" y1="329.08630204178553" x2="514.0999999999999" y2="329.08630204178553" stroke="#444" stroke-width="0.9" />
<line x1="512.3" y1="326.9557994818521" x2="514.0999999999999" y2="326.9557994818521" stroke="#444" stroke-width="0.9" />
<line x1="512.3" y1="325.05" x2="515.8" y2="325.05" stroke="#444" stroke-width="0.9" />
<line x1="512.3" y1="312.51210068059515" x2="514.0999999999999" y2="312.51210068059515" stroke="#444" stroke-width="0.9" />
<line x1="512.3" y1="305.177899740926" x2="514.0999999999999" y2="305.177899740926" stroke="#444" stroke-width="0.9" />
<line x1="512.3" y1="299.97420136119035" x2="514.0999999999999" y2="299.97420136119035" stroke="#444" stroke-width="0.9" />
<line x1="512.3" y1="295.9378993194048" x2="514.0999999999999" y2="295.9378993194048" stroke="#444" stroke-width="0.9" />
<line x1="512.3" y1="292.6400004215212" x2="514.0999999999999" y2="292.6400004215212" stroke="#444" stroke-width="0.9" />
<line x1="512.3" y1="289.8516666334062" x2="514.0999999999999" y2="289.8516666334062" stroke="#444" stroke-width="0.9" />
<line x1="512.3" y1="287.43630204178555" x2="514.0999999999999" y2="287.43630204178555" stroke="#444" stroke-width="0.9" />
<line x1="512.3" y1="285.3057994818521" x2="514.0999999999999" y2="285.3057994818521" stroke="#444" stroke-width="0.9" />
<line x1="512.3" y1="283.4" x2="515.8" y2="283.4" stroke="#444" stroke-width="0.9" />
<line x1="512.3" y1="270.8621006805952" x2="514.0999999999999" y2="270.8621006805952" stroke="#444" stroke-width="0.9" />
<line x1="512.3" y1="263.52789974092605" x2="514.0999999999999" y2="263.52789974092605" stroke="#444" stroke-width="0.9" />
<line x1="512.3" y1="258.3242013611904" x2="514.0999999999999" y2="258.3242013611904" stroke="#444" stroke-width="0.9" />
<line x1="512.3" y1="254.2878993194048" x2="514.0999999999999" y2="254.2878993194048" stroke="#444" stroke-width="0.9" />
<line x1="512.3" y1="250.99000042152124" x2="514.0999999999999" y2="250.99000042152124" stroke="#444" stroke-width="0.9" />
<line x1="512.3" y1="248.2016666334062" x2="514.0999999999999" y2="248.2016666334062" stroke="#444" stroke-width="0.9" />
<line x1="512.3" y1="245.78630204178552" x2="514.0999999999999" y2="245.78630204178552" stroke="#444" stroke-width="0.9" />
<line x1="512.3" y1="243.6557994818521" x2="514.0999999999999" y2="243.6557994818521" stroke="#444" stroke-width="0.9" />
<line x1="512.3" y1="241.75" x2="515.8" y2="241.75" stroke="#444" stroke-width="0.9" />
<line x1="512.3" y1="229.21210068059517" x2="514.0999999999999" y2="229.21210068059517" stroke="#444" stroke-width="0.9" />
<line x1="512.3" y1="221.87789974092604" x2="514.0999999999999" y2="221.87789974092604" stroke="#444" stroke-width="0.9" />
<line x1="512.3" y1="216.67420136119034" x2="514.0999999999999" y2="216.67420136119034" stroke="#444" stroke-width="0.9" />
<line x1="512.3" y1="212.63789931940482" x2="514.0999999999999" y2="212.63789931940482" stroke="#444" stroke-width="0.9" />
<line x1="512.3" y1="209.34000042152124" x2="514.0999999999999" y2="209.34000042152124" stroke="#444" stroke-width="0.9" />
<line x1="512.3" y1="206.5516666334062" x2="514.0999999999999" y2="206.5516666334062" stroke="#444" stroke-width="0.9" />
<line x1="512.3" y1="204.13630204178554" x2="514.0999999999999" y2="204.13630204178554" stroke="#444" stroke-width="0.9" />
<line x1="512.3" y1="202.0057994818521" x2="514.0999999999999" y2="202.0057994818521" stroke="#444" stroke-width="0.9" />
<text x="509.2" y="369.3" font-size="7.1" fill="#111" stroke="#111" stroke-width="0.22" text-anchor="end" font-weight="normal" font-family='"Liberation Sans", sans-serif' >0.1</text>
<text x="509.2" y="327.65000000000003" font-size="7.1" fill="#111" stroke="#111" stroke-width="0.22" text-anchor="end" font-weight="normal" font-family='"Liberation Sans", sans-serif' >1</text>
<text x="509.2" y="286.0" font-size="7.1" fill="#111" stroke="#111" stroke-width="0.22" text-anchor="end" font-weight="normal" font-family='"Liberation Sans", sans-serif' >10</text>
<text x="509.2" y="244.35" font-size="7.1" fill="#111" stroke="#111" stroke-width="0.22" text-anchor="end" font-weight="normal" font-family='"Liberation Sans", sans-serif' >100</text>
<text x="509.2" y="202.7" font-size="7.1" fill="#111" stroke="#111" stroke-width="0.22" text-anchor="end" font-weight="normal" font-family='"Liberation Sans", sans-serif' >1000</text>
<text x="597.9" y="378.9" font-size="8.4" fill="#111" stroke="#111" stroke-width="0.22" text-anchor="middle" font-weight="bold" font-family='"Liberation Sans", sans-serif' >Sacrificial layer</text>
<text x="0" y="0" font-size="8.4" fill="#111" stroke="#111" stroke-width="0.22" text-anchor="middle" font-weight="bold" font-family='"Liberation Sans", sans-serif' transform="translate(494.9,283.6) rotate(-90)">Etching speed (mm<tspan baseline-shift="super" font-size="6.5">2</tspan>/min)</text>
<defs>
<linearGradient id="g1" x1="0" y1="0" x2="0" y2="1"><stop offset="0" stop-color="#90ee90"/><stop offset="0.92" stop-color="#ffffff"/></linearGradient>
<linearGradient id="g2" x1="0" y1="0" x2="0" y2="1"><stop offset="0" stop-color="#a890cc"/><stop offset="0.92" stop-color="#ffffff"/></linearGradient>
<linearGradient id="g3" x1="0" y1="0" x2="0" y2="1"><stop offset="0" stop-color="#40d840"/><stop offset="0.92" stop-color="#ffffff"/></linearGradient>
<linearGradient id="g4" x1="0" y1="0" x2="0" y2="1"><stop offset="0" stop-color="#b02a7c"/><stop offset="0.92" stop-color="#ffffff"/></linearGradient>
<linearGradient id="g5" x1="0" y1="0" x2="0" y2="1"><stop offset="0" stop-color="#40cccc"/><stop offset="0.92" stop-color="#ffffff"/></linearGradient>
<linearGradient id="g6" x1="0" y1="0" x2="0" y2="1"><stop offset="0" stop-color="#36369e"/><stop offset="0.92" stop-color="#ffffff"/></linearGradient>
<linearGradient id="g7" x1="0" y1="0" x2="0" y2="1"><stop offset="0" stop-color="#7c7c7c"/><stop offset="0.92" stop-color="#ffffff"/></linearGradient>
<linearGradient id="g8" x1="0" y1="0" x2="0" y2="1"><stop offset="0" stop-color="#8e4c56"/><stop offset="0.92" stop-color="#ffffff"/></linearGradient>
<linearGradient id="g9" x1="0" y1="0" x2="0" y2="1"><stop offset="0" stop-color="#4e8e4e"/><stop offset="0.92" stop-color="#ffffff"/></linearGradient>
<linearGradient id="g10" x1="0" y1="0" x2="0" y2="1"><stop offset="0" stop-color="#4a9ac8"/><stop offset="0.92" stop-color="#ffffff"/></linearGradient>
<linearGradient id="gtw" x1="0" y1="0" x2="0" y2="1"><stop offset="0" stop-color="#b01c1c"/><stop offset="0.22" stop-color="#be4848"/><stop offset="0.5" stop-color="#d49090"/><stop offset="0.95" stop-color="#fdfafa"/></linearGradient>
</defs>
<text x="0" y="0" font-size="6.4" font-weight="bold" font-family='"Liberation Sans", sans-serif' fill="#111" stroke="#111" stroke-width="0.2" transform="translate(522.7,360.0) rotate(-90)">La<tspan font-size="4.3" dy="1.2">0.7</tspan><tspan dy="-1.2">Sr</tspan><tspan font-size="4.3" dy="1.2">0.3</tspan><tspan dy="-1.2">MnO</tspan><tspan font-size="4.3" dy="1.2">3</tspan></text>
<rect x="528.3" y="360.7" width="11.6" height="6.0" fill="url(#g1)" stroke="#555" stroke-width="0.7"/>
<text x="0" y="0" font-size="6.4" font-weight="bold" font-family='"Liberation Sans", sans-serif' fill="#111" stroke="#111" stroke-width="0.2" transform="translate(537.4,358.0) rotate(-90)">SrCoO<tspan font-size="4.3" dy="1.2">2.5</tspan></text>
<rect x="542.3" y="348.5" width="11.6" height="18.2" fill="url(#g2)" stroke="#555" stroke-width="0.7"/>
<text x="0" y="0" font-size="6.4" font-weight="bold" font-family='"Liberation Sans", sans-serif' fill="#111" stroke="#111" stroke-width="0.2" transform="translate(551.4,346.4) rotate(-90)">LaNiO<tspan font-size="4.3" dy="1.2">3</tspan></text>
<rect x="556.3" y="340.6" width="11.6" height="26.1" fill="url(#g3)" stroke="#555" stroke-width="0.7"/>
<text x="0" y="0" font-size="6.4" font-weight="bold" font-family='"Liberation Sans", sans-serif' fill="#111" stroke="#111" stroke-width="0.2" transform="translate(565.6,339.1) rotate(-90)">Sr<tspan font-size="4.3" dy="1.2">3</tspan><tspan dy="-1.2">Al</tspan><tspan font-size="4.3" dy="1.2">2</tspan><tspan dy="-1.2">O</tspan><tspan font-size="4.3" dy="1.2">6</tspan></text>
<rect x="570.5" y="328.3" width="11.6" height="38.4" fill="url(#g4)" stroke="#555" stroke-width="0.7"/>
<text x="0" y="0" font-size="6.4" font-weight="bold" font-family='"Liberation Sans", sans-serif' fill="#111" stroke="#111" stroke-width="0.2" transform="translate(579.9,326.6) rotate(-90)">SrVO<tspan font-size="4.3" dy="1.2">3</tspan></text>
<rect x="584.7" y="328.3" width="11.6" height="38.4" fill="url(#g5)" stroke="#555" stroke-width="0.7"/>
<text x="0" y="0" font-size="6.4" font-weight="bold" font-family='"Liberation Sans", sans-serif' fill="#111" stroke="#111" stroke-width="0.2" transform="translate(594.0,326.6) rotate(-90)">SrO</text>
<rect x="599.2" y="308.2" width="11.6" height="58.5" fill="url(#g6)" stroke="#555" stroke-width="0.7"/>
<text x="0" y="0" font-size="6.4" font-weight="bold" font-family='"Liberation Sans", sans-serif' fill="#111" stroke="#111" stroke-width="0.2" transform="translate(607.2,306.8) rotate(-90)">Ba<tspan font-size="4.3" dy="1.2">3</tspan><tspan dy="-1.2">Al</tspan><tspan font-size="4.3" dy="1.2">2</tspan><tspan dy="-1.2">O</tspan><tspan font-size="4.3" dy="1.2">6</tspan></text>
<rect x="613.4" y="308.2" width="11.6" height="58.5" fill="url(#g7)" stroke="#555" stroke-width="0.7"/>
<text x="0" y="0" font-size="6.4" font-weight="bold" font-family='"Liberation Sans", sans-serif' fill="#111" stroke="#111" stroke-width="0.2" transform="translate(622.4,307.2) rotate(-90)">YBa<tspan font-size="4.3" dy="1.2">2</tspan><tspan dy="-1.2">Cu</tspan><tspan font-size="4.3" dy="1.2">3</tspan><tspan dy="-1.2">O</tspan><tspan font-size="4.3" dy="1.2">7-x</tspan></text>
<rect x="627.4" y="298.9" width="11.6" height="67.8" fill="url(#g8)" stroke="#555" stroke-width="0.7"/>
<text x="0" y="0" font-size="6.4" font-weight="bold" font-family='"Liberation Sans", sans-serif' fill="#111" stroke="#111" stroke-width="0.2" transform="translate(635.3,297.8) rotate(-90)">Sr<tspan font-size="4.3" dy="1.2">4</tspan><tspan dy="-1.2">Al</tspan><tspan font-size="4.3" dy="1.2">2</tspan><tspan dy="-1.2">O</tspan><tspan font-size="4.3" dy="1.2">7</tspan></text>
<rect x="642.0" y="295.7" width="11.6" height="71.0" fill="url(#g9)" stroke="#555" stroke-width="0.7"/>
<text x="0" y="0" font-size="6.4" font-weight="bold" font-family='"Liberation Sans", sans-serif' fill="#111" stroke="#111" stroke-width="0.2" transform="translate(651.0,294.7) rotate(-90)">BaO</text>
<rect x="656.0" y="295.7" width="11.6" height="71.0" fill="url(#g10)" stroke="#555" stroke-width="0.7"/>
<text x="0" y="0" font-size="6.4" font-weight="bold" font-family='"Liberation Sans", sans-serif' fill="#111" stroke="#111" stroke-width="0.2" transform="translate(664.2,294.7) rotate(-90)">SrCuO<tspan font-size="4.3" dy="1.2">2</tspan></text>
<rect x="670.5" y="217.2" width="11.4" height="149.5" fill="url(#gtw)" stroke="#333" stroke-width="0.6"/>
<line x1="676.3" y1="209.1" x2="676.3" y2="221.3" stroke="#222" stroke-width="0.8" />
<line x1="673.3" y1="209.1" x2="679.5" y2="209.1" stroke="#222" stroke-width="0.9" />
<line x1="673.3" y1="221.3" x2="679.5" y2="221.3" stroke="#222" stroke-width="0.9" />
<text x="0" y="0" font-size="6.7" font-weight="bold" font-family='"Liberation Sans", sans-serif' fill="#fff" stroke="#fff" stroke-width="0.2" text-anchor="middle" transform="translate(678.8,248.3) rotate(-90)">This Work</text>
<text x="0" y="0" font-size="5.9" font-weight="bold" font-family='"Liberation Sans", sans-serif' fill="#f01818" stroke="#f01818" stroke-width="0.3" text-anchor="middle" transform="translate(679.4,303.8) rotate(-90)">Electrolysis+LaNiO<tspan font-size="4.3" dy="1.2">3</tspan></text>
<text x="468.8" y="11.5" font-size="13.2" fill="#111" stroke="#111" stroke-width="0.15" text-anchor="start" font-weight="bold" font-family='"Liberation Sans", sans-serif' >c</text>
<defs>
<filter id="tcream" x="0" y="0" width="1" height="1" filterUnits="objectBoundingBox">
<feTurbulence type="fractalNoise" baseFrequency="0.11" numOctaves="3" seed="7"/>
<feColorMatrix type="matrix" values="0 0 0 0 0.89  0 0 0 0 0.83  0 0 0 0 0.76  3.2 0 0 0 -1.5"/>
<feGaussianBlur stdDeviation="0.7"/>
<feComposite in2="SourceAlpha" operator="in"/>
</filter>
<filter id="tdark" x="0" y="0" width="1" height="1" filterUnits="objectBoundingBox">
<feTurbulence type="fractalNoise" baseFrequency="0.08" numOctaves="2" seed="21"/>
<feColorMatrix type="matrix" values="0 0 0 0 0.58  0 0 0 0 0.48  0 0 0 0 0.60  3 0 0 0 -1.4"/>
<feGaussianBlur stdDeviation="0.8"/>
<feComposite in2="SourceAlpha" operator="in"/>
</filter>
<filter id="tspeck" x="0" y="0" width="1" height="1" filterUnits="objectBoundingBox">
<feTurbulence type="fractalNoise" baseFrequency="0.4" numOctaves="1" seed="4"/>
<feColorMatrix type="matrix" values="0 0 0 0 0.93  0 0 0 0 0.93  0 0 0 0 0.88  4 0 0 0 -2.3"/>
<feGaussianBlur stdDeviation="0.35"/>
<feComposite in2="SourceAlpha" operator="in"/>
</filter>
<filter id="tyel" x="0" y="0" width="1" height="1" filterUnits="objectBoundingBox">
<feTurbulence type="fractalNoise" baseFrequency="0.35" numOctaves="1" seed="11"/>
<feColorMatrix type="matrix" values="0 0 0 0 0.88  0 0 0 0 0.86  0 0 0 0 0.55  6 0 0 0 -3.6"/>
<feComposite in2="SourceAlpha" operator="in"/>
</filter>
<filter id="tcyan" x="0" y="0" width="1" height="1" filterUnits="objectBoundingBox">
<feTurbulence type="fractalNoise" baseFrequency="0.6" numOctaves="1" seed="2"/>
<feColorMatrix type="matrix" values="0 0 0 0 0.42  0 0 0 0 0.85  0 0 0 0 0.88  6 0 0 0 -2.2"/>
<feComposite in2="SourceAlpha" operator="in"/>
</filter>
<radialGradient id="pw" cx="0.45" cy="0.5" r="0.71"><stop offset="0" stop-color="#f4f4f3"/><stop offset="0.72" stop-color="#f1f1ea"/><stop offset="0.9" stop-color="#e8e6c6"/><stop offset="1" stop-color="#d2ca7c"/></radialGradient>
<linearGradient id="pwl" x1="0" y1="0" x2="1" y2="0"><stop offset="0" stop-color="#e6e6f6" stop-opacity="0.9"/><stop offset="0.25" stop-color="#f0f0f4" stop-opacity="0"/></linearGradient>
<linearGradient id="pstrip" x1="0" y1="0" x2="1" y2="0"><stop offset="0" stop-color="#d4ccf0"/><stop offset="0.3" stop-color="#f0ecf8"/><stop offset="0.8" stop-color="#f4f0f4"/><stop offset="1" stop-color="#e6e0c8"/></linearGradient>
<linearGradient id="pb1" x1="0.8" y1="0" x2="0.2" y2="1"><stop offset="0" stop-color="#b4cedc"/><stop offset="0.4" stop-color="#a4bee6"/><stop offset="1" stop-color="#92a6e4"/></linearGradient>
<linearGradient id="pb2" x1="0" y1="0" x2="1" y2="0"><stop offset="0" stop-color="#b0b8ea"/><stop offset="0.4" stop-color="#a8c0f0"/><stop offset="1" stop-color="#a4bcec"/></linearGradient>
<linearGradient id="pb3" x1="0" y1="0" x2="1" y2="1"><stop offset="0" stop-color="#aab8ec"/><stop offset="1" stop-color="#9eb0ea"/></linearGradient>
<linearGradient id="pb4" x1="0" y1="0" x2="1" y2="1"><stop offset="0" stop-color="#c4d0ee"/><stop offset="1" stop-color="#b8c8ec"/></linearGradient>
<radialGradient id="edge" cx="0.5" cy="0.5" r="0.71"><stop offset="0.8" stop-color="#d8d080" stop-opacity="0"/><stop offset="1" stop-color="#d8d080" stop-opacity="0.9"/></radialGradient>
</defs>
<filter id="bl1" x="-0.3" y="-0.3" width="1.6" height="1.6"><feGaussianBlur stdDeviation="1.1"/></filter>
<filter id="bl2" x="-0.3" y="-0.3" width="1.6" height="1.6"><feGaussianBlur stdDeviation="2.2"/></filter>
<clipPath id="ph1_0"><rect x="486.9" y="2.3" width="47.6" height="47.4"/></clipPath>
<clipPath id="ph1_1"><rect x="535.8" y="2.3" width="47.6" height="47.4"/></clipPath>
<clipPath id="ph1_2"><rect x="585.5" y="2.3" width="47.6" height="47.4"/></clipPath>
<clipPath id="ph1_3"><rect x="635.0" y="2.3" width="47.6" height="47.4"/></clipPath>
<rect x="486.9" y="2.3" width="47.6" height="47.4" fill="#b09ca8" />
<rect x="535.8" y="2.3" width="47.6" height="47.4" fill="#aea2bc" />
<rect x="585.5" y="2.3" width="47.6" height="47.4" fill="#aea2bc" />
<rect x="635.0" y="2.3" width="47.6" height="47.4" fill="#bebcda" />
<g clip-path="url(#ph1_0)"><g filter="url(#bl1)">
<ellipse cx="489" cy="6" rx="4" ry="4" fill="#9c8494" opacity="0.8" transform="rotate(0 489 6)"/>
<ellipse cx="496" cy="4" rx="5" ry="3" fill="#e8dcc4" opacity="0.8" transform="rotate(0 496 4)"/>
<ellipse cx="530" cy="6" rx="4" ry="3" fill="#e8dcc4" opacity="0.9" transform="rotate(0 530 6)"/>
<ellipse cx="533" cy="18" rx="3" ry="6" fill="#e8dcc4" opacity="0.8" transform="rotate(0 533 18)"/>
<ellipse cx="533" cy="40" rx="3" ry="6" fill="#e8dcc4" opacity="0.9" transform="rotate(0 533 40)"/>
<ellipse cx="527" cy="48" rx="6" ry="3" fill="#e8dcc4" opacity="0.8" transform="rotate(0 527 48)"/>
<ellipse cx="510" cy="49" rx="8" ry="2.5" fill="#9c8494" opacity="0.9" transform="rotate(0 510 49)"/>
<ellipse cx="490" cy="44" rx="4" ry="5" fill="#e8dcc4" opacity="0.9" transform="rotate(0 490 44)"/>
<ellipse cx="488" cy="28" rx="2.5" ry="6" fill="#e8dcc4" opacity="0.8" transform="rotate(0 488 28)"/>
<ellipse cx="498" cy="48" rx="5" ry="3" fill="#e8dcc4" opacity="0.7" transform="rotate(0 498 48)"/>
<ellipse cx="532" cy="30" rx="2" ry="4" fill="#9c8494" opacity="0.8" transform="rotate(0 532 30)"/>
<ellipse cx="488" cy="14" rx="3" ry="4" fill="#9c8494" opacity="0.7" transform="rotate(0 488 14)"/>
</g></g>
<g clip-path="url(#ph1_1)"><g filter="url(#bl1)">
<ellipse cx="540" cy="25" rx="4" ry="7" fill="#e8dcc4" opacity="0.95" transform="rotate(0 540 25)"/>
<ellipse cx="542" cy="42" rx="6" ry="5" fill="#e8dcc4" opacity="0.9" transform="rotate(0 542 42)"/>
<ellipse cx="556" cy="46" rx="5" ry="3" fill="#e8dcc4" opacity="0.85" transform="rotate(0 556 46)"/>
<ellipse cx="579" cy="10" rx="5" ry="5" fill="#e8dcc4" opacity="0.85" transform="rotate(0 579 10)"/>
<ellipse cx="581" cy="36" rx="3" ry="8" fill="#e8dcc4" opacity="0.8" transform="rotate(0 581 36)"/>
<ellipse cx="573" cy="48" rx="6" ry="3" fill="#e8dcc4" opacity="0.8" transform="rotate(0 573 48)"/>
<ellipse cx="572" cy="36" rx="6" ry="9" fill="#8a7890" opacity="0.8" transform="rotate(30 572 36)"/>
<ellipse cx="541" cy="35" rx="3" ry="4" fill="#8a7890" opacity="0.7" transform="rotate(0 541 35)"/>
<ellipse cx="580" cy="22" rx="3" ry="4" fill="#8a7890" opacity="0.6" transform="rotate(0 580 22)"/>
<ellipse cx="566" cy="46" rx="4" ry="3" fill="#8a7890" opacity="0.6" transform="rotate(0 566 46)"/>
<ellipse cx="545" cy="8" rx="4" ry="3" fill="#e8dcc4" opacity="0.6" transform="rotate(0 545 8)"/>
</g></g>
<g clip-path="url(#ph1_2)"><g filter="url(#bl1)">
<ellipse cx="613" cy="28" rx="11" ry="15" fill="#8a7890" opacity="0.8" transform="rotate(0 613 28)"/>
<ellipse cx="627" cy="30" rx="5" ry="10" fill="#e8dcc4" opacity="0.95" transform="rotate(0 627 30)"/>
<ellipse cx="592" cy="44" rx="6" ry="5" fill="#e8dcc4" opacity="0.9" transform="rotate(0 592 44)"/>
<ellipse cx="590" cy="21" rx="4" ry="5" fill="#e8dcc4" opacity="0.85" transform="rotate(0 590 21)"/>
<ellipse cx="621" cy="46" rx="7" ry="3" fill="#e8dcc4" opacity="0.85" transform="rotate(0 621 46)"/>
<ellipse cx="612" cy="8" rx="6" ry="3" fill="#e8dcc4" opacity="0.7" transform="rotate(0 612 8)"/>
<ellipse cx="630" cy="10" rx="3" ry="4" fill="#e8dcc4" opacity="0.7" transform="rotate(0 630 10)"/>
<ellipse cx="598" cy="47" rx="4" ry="2" fill="#8a7890" opacity="0.6" transform="rotate(0 598 47)"/>
<ellipse cx="592" cy="32" rx="3" ry="3" fill="#8a7890" opacity="0.6" transform="rotate(0 592 32)"/>
</g></g>
<g clip-path="url(#ph1_3)"><g filter="url(#bl1)">
<ellipse cx="640" cy="22" rx="2.5" ry="6" fill="#ecebe4" opacity="0.8" transform="rotate(-15 640 22)"/>
<ellipse cx="643" cy="41" rx="4" ry="5" fill="#ecebe4" opacity="0.85" transform="rotate(0 643 41)"/>
<ellipse cx="650" cy="12" rx="2" ry="4" fill="#e8e8f0" opacity="0.6" transform="rotate(0 650 12)"/>
<ellipse cx="660" cy="46" rx="5" ry="2" fill="#e6e4d8" opacity="0.7" transform="rotate(0 660 46)"/>
<ellipse cx="675" cy="14" rx="3" ry="2" fill="#e8e8f0" opacity="0.6" transform="rotate(0 675 14)"/>
</g></g>
<g clip-path="url(#ph1_3)"><g filter="url(#bl1)"><path d="M651,30 L658,25 L665,17.5 L670,21 L676,21.5 L678.5,26 L674.5,33.5 L668,31.5 L661,34Z" fill="#f2eedc"/></g></g>
<path d="M490,21 C489.5,14 492,9.5 499,8.6 C508,7.6 517,7.8 524,10 C529.5,13 531.5,19 531.2,26 C531,34 528,41 521,45 C514,48 504,47.5 497,43 C491.5,38 490.3,30 490,21Z" fill="#9ae2e6"/>
<path d="M545.8,16.5 L551.3,13.6 L565,14.2 L576.5,18 L573,25.5 L566,33.5 L560.3,40.8 L552.2,36.2 L546.5,32.3 L544.6,24.6Z" fill="#90dce4"/>
<clipPath id="cy3"><path d="M597.8,18.2 L601.9,16.6 L606.5,16.1 L610.4,17.6 L610,22 L608.5,26 L607.2,30.1 L607.8,35.8 L604.6,37 L601.6,34 L598.8,31.2 L596.8,28.3 L598.8,23.7 L597.8,20Z"/></clipPath>
<path d="M597.8,18.2 L601.9,16.6 L606.5,16.1 L610.4,17.6 L610,22 L608.5,26 L607.2,30.1 L607.8,35.8 L604.6,37 L601.6,34 L598.8,31.2 L596.8,28.3 L598.8,23.7 L597.8,20Z" fill="#9aaac4"/>
<rect x="596" y="15.5" width="15" height="22" fill="#000" filter="url(#tcyan)" clip-path="url(#cy3)"/>
<text x="489.8" y="13.4" font-size="10.3" fill="#2222ee" stroke="#2222ee" stroke-width="0.4" font-family='"Liberation Sans", sans-serif'>5 min</text>
<text x="538.7" y="13.4" font-size="10.3" fill="#2222ee" stroke="#2222ee" stroke-width="0.4" font-family='"Liberation Sans", sans-serif'>20 min</text>
<text x="588.4" y="13.4" font-size="10.3" fill="#2222ee" stroke="#2222ee" stroke-width="0.4" font-family='"Liberation Sans", sans-serif'>35 min</text>
<text x="637.9" y="13.4" font-size="10.3" fill="#2222ee" stroke="#2222ee" stroke-width="0.4" font-family='"Liberation Sans", sans-serif'>45 min</text>
<text x="662.6" y="43.5" font-size="6.3" font-weight="bold" fill="#000" font-family='"Liberation Sans", sans-serif'>1 mm</text>
<rect x="668.7" y="45.7" width="12.0" height="2.5" fill="#000" />
<text x="488.4" y="59.3" font-size="10.3" fill="#2222ee" stroke="#2222ee" stroke-width="0.35" font-family='"Liberation Sans", sans-serif'>Soaking</text>
<text x="681.6" y="57.1" font-size="8" fill="#111" stroke="#111" stroke-width="0.2" text-anchor="end" font-family='"Liberation Sans", sans-serif'>PZO(60nm)/LNO(160 nm)/Sub-STO</text>
<filter id="tdrop" x="0" y="0" width="1" height="1" filterUnits="objectBoundingBox"><feTurbulence type="fractalNoise" baseFrequency="0.3" numOctaves="2" seed="9"/><feColorMatrix type="matrix" values="0 0 0 0 0.95  0 0 0 0 0.95  0 0 0 0 0.93  3.6 0 0 0 -1.9"/><feGaussianBlur stdDeviation="0.6"/><feComposite in2="SourceAlpha" operator="in"/></filter>
<filter id="tdark2" x="0" y="0" width="1" height="1" filterUnits="objectBoundingBox"><feTurbulence type="fractalNoise" baseFrequency="0.32" numOctaves="2" seed="9"/><feColorMatrix type="matrix" values="0 0 0 0 0.6  0 0 0 0 0.6  0 0 0 0 0.7  -4 0 0 0 1.7"/><feGaussianBlur stdDeviation="0.7"/><feComposite in2="SourceAlpha" operator="in"/></filter>
<filter id="tdropy" x="0" y="0" width="1" height="1" filterUnits="objectBoundingBox"><feTurbulence type="fractalNoise" baseFrequency="0.3" numOctaves="2" seed="13"/><feColorMatrix type="matrix" values="0 0 0 0 0.92  0 0 0 0 0.90  0 0 0 0 0.55  3.6 0 0 0 -1.8"/><feGaussianBlur stdDeviation="0.6"/><feComposite in2="SourceAlpha" operator="in"/></filter>
<linearGradient id="yb" x1="0" y1="0" x2="0" y2="1"><stop offset="0.45" stop-color="#fff" stop-opacity="0"/><stop offset="1" stop-color="#fff" stop-opacity="1"/></linearGradient>
<mask id="mbot"><rect x="0" y="62" width="685" height="48" fill="url(#yb)"/></mask>
<clipPath id="ph2_0"><rect x="486.9" y="62.5" width="47.6" height="47.4"/></clipPath>
<clipPath id="ph2_1"><rect x="535.8" y="62.5" width="47.6" height="47.4"/></clipPath>
<clipPath id="ph2_2"><rect x="585.4" y="62.5" width="47.6" height="47.4"/></clipPath>
<clipPath id="ph2_3"><rect x="635.0" y="62.5" width="47.6" height="47.4"/></clipPath>
<linearGradient id="eT" x1="0" y1="0" x2="0" y2="1"><stop offset="0" stop-color="#d2cc78" stop-opacity="0.95"/><stop offset="1" stop-color="#d2cc78" stop-opacity="0"/></linearGradient>
<linearGradient id="eB" x1="0" y1="1" x2="0" y2="0"><stop offset="0" stop-color="#d2cc78" stop-opacity="0.95"/><stop offset="1" stop-color="#d2cc78" stop-opacity="0"/></linearGradient>
<linearGradient id="eR" x1="1" y1="0" x2="0" y2="0"><stop offset="0" stop-color="#cfc870" stop-opacity="0.95"/><stop offset="1" stop-color="#cfc870" stop-opacity="0"/></linearGradient>
<linearGradient id="eL" x1="0" y1="0" x2="1" y2="0"><stop offset="0" stop-color="#dcdcf4" stop-opacity="1"/><stop offset="1" stop-color="#dcdcf4" stop-opacity="0"/></linearGradient>
<linearGradient id="eRR" x1="0" y1="0" x2="1" y2="0"><stop offset="0.55" stop-color="#dcd890" stop-opacity="0"/><stop offset="0.94" stop-color="#d8d488" stop-opacity="0.3"/><stop offset="1" stop-color="#b0ac58" stop-opacity="0.8"/></linearGradient>
<radialGradient id="eTR" cx="1" cy="0" r="0.5"><stop offset="0" stop-color="#c8cc70" stop-opacity="0.45"/><stop offset="1" stop-color="#c8cc70" stop-opacity="0"/></radialGradient>
<rect x="486.9" y="62.5" width="47.6" height="47.4" fill="#f1f1f1" />
<rect x="486.9" y="62.5" width="47.6" height="47.4" fill="url(#eRR)" />
<rect x="486.9" y="62.5" width="47.6" height="47.4" fill="url(#eTR)" />
<rect x="486.9" y="62.5" width="47.6" height="1.8" fill="url(#eT)" />
<rect x="486.9" y="107.5" width="47.6" height="2.4" fill="url(#eB)" />
<rect x="535.8" y="62.5" width="47.6" height="47.4" fill="#f1f1f1" />
<rect x="535.8" y="62.5" width="47.6" height="47.4" fill="url(#eRR)" />
<rect x="535.8" y="62.5" width="47.6" height="47.4" fill="url(#eTR)" />
<rect x="535.8" y="62.5" width="47.6" height="1.8" fill="url(#eT)" />
<rect x="535.8" y="107.5" width="47.6" height="2.4" fill="url(#eB)" />
<g clip-path="url(#ph2_1)">
<rect x="535.8" y="62.5" width="16.6" height="47.4" fill="#c0c0cc" />
<rect x="535.8" y="62.5" width="16.6" height="47.4" fill="#000" filter="url(#tdark2)" opacity="0.5"/>
<rect x="535.8" y="62.5" width="16.6" height="47.4" fill="#000" filter="url(#tdrop)"/>
<rect x="535.8" y="104.5" width="16.6" height="6" fill="#8a6ad0" filter="url(#bl1)"/>
<rect x="533.5" y="62.5" width="3" height="47.4" fill="#9aa0e0" opacity="0.6" filter="url(#bl1)"/>
</g>
<line x1="553.2" y1="63.5" x2="553.2" y2="108.5" stroke="#fff" stroke-width="1" stroke-dasharray="2.6,1.8"/>
<g clip-path="url(#ph2_2)">
<rect x="585.4" y="62.5" width="47.6" height="47.4" fill="#c0c2c6" />
<rect x="585.4" y="62.5" width="36.0" height="47.4" fill="#000" filter="url(#tdark2)" opacity="0.5"/>
<rect x="585.4" y="62.5" width="36.0" height="47.4" fill="#000" filter="url(#tdrop)"/>
<g mask="url(#mbot)"><rect x="585.4" y="62.5" width="22" height="47.4" fill="#000" filter="url(#tdropy)"/><rect x="585.4" y="62.5" width="22" height="47.4" fill="#cfcc98" opacity="0.45"/></g>
<rect x="620.4" y="62.5" width="12.6" height="47.4" fill="url(#pstrip)" />
<rect x="630.0" y="92.5" width="3.0" height="17.4" fill="url(#eR)" />
<rect x="620.4" y="62.5" width="12.6" height="2.6" fill="url(#eT)" />
<g filter="url(#bl1)"><path d="M599.5,110.5 L604.5,99.5 L610,110.5Z" fill="#ee8070"/><rect x="606" y="60.5" width="14" height="4" fill="#e0a0e0" opacity="0.8"/></g>
</g>
<line x1="620.6" y1="64.5" x2="620.6" y2="108.5" stroke="#f8f8fc" stroke-width="0.9" stroke-dasharray="2.2,1.6" opacity="0.9"/>
<g clip-path="url(#ph2_3)">
<rect x="635.0" y="62.5" width="47.6" height="47.4" fill="#b8bcd0" />
<rect x="635.0" y="62.5" width="47.6" height="47.4" fill="#000" filter="url(#tdark2)" opacity="0.45"/>
<rect x="635.0" y="62.5" width="47.6" height="47.4" fill="#000" filter="url(#tdrop)" opacity="0.85"/>
<g mask="url(#mbot)"><rect x="635" y="62.5" width="47.6" height="47.4" fill="#cfcc9a" opacity="0.55"/><rect x="635" y="62.5" width="47.6" height="47.4" fill="#000" filter="url(#tdropy)" opacity="0.8"/></g>
<rect x="680" y="90.5" width="4" height="10" fill="#8888e0" opacity="0.6" filter="url(#bl1)"/>
</g>
<text x="489.6" y="73.3" font-size="10.3" fill="#ee2222" stroke="#ee2222" stroke-width="0.4" font-family='"Liberation Sans", sans-serif'>0 s</text>
<text x="538.5" y="73.3" font-size="10.3" fill="#ee2222" stroke="#ee2222" stroke-width="0.4" font-family='"Liberation Sans", sans-serif'>15 s</text>
<text x="588.1" y="73.3" font-size="10.3" fill="#ee2222" stroke="#ee2222" stroke-width="0.4" font-family='"Liberation Sans", sans-serif'>30 s</text>
<text x="637.7" y="73.3" font-size="10.3" fill="#ee2222" stroke="#ee2222" stroke-width="0.4" font-family='"Liberation Sans", sans-serif'>45 s</text>
<text x="662.6" y="101.6" font-size="6.3" font-weight="bold" fill="#000" font-family='"Liberation Sans", sans-serif'>2 mm</text>
<rect x="669.0" y="107.0" width="12.2" height="2.4" fill="#000" />
<text x="486.9" y="119" font-size="10.3" fill="#ee2222" stroke="#ee2222" stroke-width="0.35" font-family='"Liberation Sans", sans-serif'>DED</text>
<text x="681.7" y="118.4" font-size="8" fill="#111" stroke="#111" stroke-width="0.2" text-anchor="end" font-family='"Liberation Sans", sans-serif'>PZO(60nm)/LNO(100 nm)/Sub-STO</text>
<rect x="486.9" y="121.1" width="47.6" height="47.4" fill="url(#pb1)" />
<rect x="486.9" y="121.1" width="47.6" height="47.4" fill="url(#edge)" />
<rect x="536.8" y="121.1" width="47.6" height="47.4" fill="url(#pb2)" />
<rect x="536.8" y="121.1" width="47.6" height="47.4" fill="url(#edge)" />
<rect x="586.6" y="121.1" width="47.6" height="47.4" fill="url(#pb3)" />
<rect x="586.6" y="121.1" width="47.6" height="47.4" fill="url(#edge)" />
<rect x="636.3" y="121.1" width="47.6" height="47.4" fill="url(#pb4)" />
<rect x="636.3" y="121.1" width="47.6" height="47.4" fill="url(#edge)" />
<line x1="555" y1="122.1" x2="551.6" y2="167.6" stroke="#f4f4ff" stroke-width="0.75" stroke-dasharray="2.8,2"/>
<line x1="620.8" y1="122.1" x2="618.7" y2="167.6" stroke="#f4f4ff" stroke-width="0.75" stroke-dasharray="2.8,2"/>
<text x="489.7" y="132.9" font-size="10.3" fill="#ee2222" stroke="#ee2222" stroke-width="0.4" font-family='"Liberation Sans", sans-serif'>0 s</text>
<text x="539.6" y="132.9" font-size="10.3" fill="#ee2222" stroke="#ee2222" stroke-width="0.4" font-family='"Liberation Sans", sans-serif'>5 s</text>
<text x="589.4" y="132.9" font-size="10.3" fill="#ee2222" stroke="#ee2222" stroke-width="0.4" font-family='"Liberation Sans", sans-serif'>10 s</text>
<text x="639.1" y="132.9" font-size="10.3" fill="#ee2222" stroke="#ee2222" stroke-width="0.4" font-family='"Liberation Sans", sans-serif'>15 s</text>
<text x="662.6" y="159.8" font-size="6.3" font-weight="bold" fill="#000" font-family='"Liberation Sans", sans-serif'>2 mm</text>
<rect x="670.3" y="164.8" width="12.4" height="2.3" fill="#000" />
<text x="488.5" y="179.3" font-size="10.3" fill="#ee2222" stroke="#ee2222" stroke-width="0.35" font-family='"Liberation Sans", sans-serif'>DED</text>
<text x="679.0" y="178.8" font-size="7.95" fill="#111" stroke="#111" stroke-width="0.2" text-anchor="end" font-family='"Liberation Sans", sans-serif'>PZO(60nm)/LNO(2 nm)/Sub-STO</text>
</svg></body></html>
